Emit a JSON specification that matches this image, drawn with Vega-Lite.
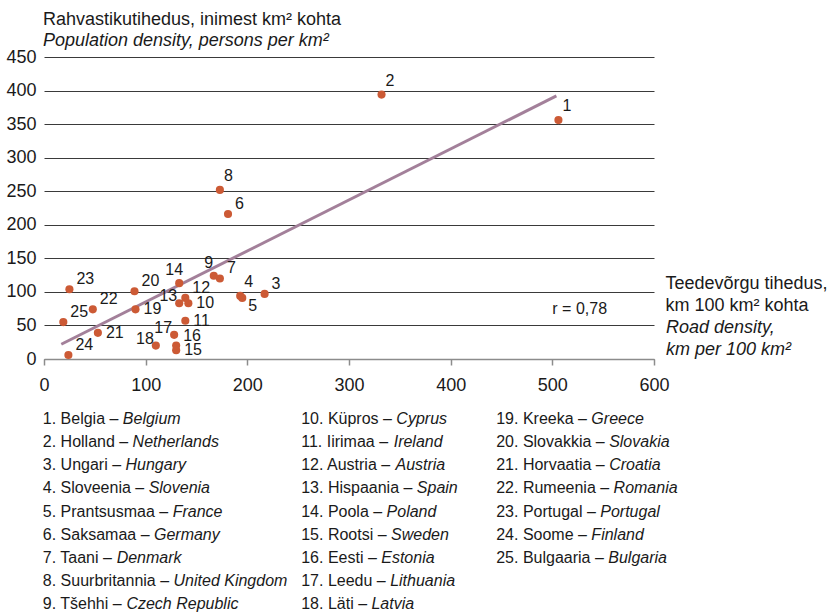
{
  "$schema": "https://vega.github.io/schema/vega-lite/v6.json",
  "background": "white",
  "padding": {"left": 5, "top": 11, "right": 5, "bottom": 0},
  "config": {"font": "Liberation Sans", "view": {"stroke": null}},
  "datasets": {
    "points": [
      {"n": 1, "x": 506, "y": 356},
      {"n": 2, "x": 332, "y": 394},
      {"n": 3, "x": 217, "y": 97},
      {"n": 4, "x": 193, "y": 94},
      {"n": 5, "x": 195, "y": 91},
      {"n": 6, "x": 181, "y": 216},
      {"n": 7, "x": 173, "y": 120},
      {"n": 8, "x": 173, "y": 252},
      {"n": 9, "x": 167, "y": 124},
      {"n": 10, "x": 142, "y": 83},
      {"n": 11, "x": 139, "y": 57},
      {"n": 12, "x": 139, "y": 91},
      {"n": 13, "x": 133, "y": 83},
      {"n": 14, "x": 133, "y": 113},
      {"n": 15, "x": 130, "y": 13},
      {"n": 16, "x": 130, "y": 20},
      {"n": 17, "x": 128, "y": 36},
      {"n": 18, "x": 110, "y": 20},
      {"n": 19, "x": 90, "y": 74},
      {"n": 20, "x": 89, "y": 101},
      {"n": 21, "x": 53, "y": 39},
      {"n": 22, "x": 48, "y": 74},
      {"n": 23, "x": 25, "y": 104},
      {"n": 24, "x": 24, "y": 6},
      {"n": 25, "x": 19, "y": 55}
    ],
    "trend": [
      {"x": 17, "y": 22},
      {"x": 504, "y": 392}
    ],
    "note": [
      {"label": "r = 0,78", "x": 500, "y": 74}
    ],
    "legend": [
      {"n": 1, "et": "Belgia", "en": "Belgium"},
      {"n": 2, "et": "Holland", "en": "Netherlands"},
      {"n": 3, "et": "Ungari", "en": "Hungary"},
      {"n": 4, "et": "Sloveenia", "en": "Slovenia"},
      {"n": 5, "et": "Prantsusmaa", "en": "France"},
      {"n": 6, "et": "Saksamaa", "en": "Germany"},
      {"n": 7, "et": "Taani", "en": "Denmark"},
      {"n": 8, "et": "Suurbritannia", "en": "United Kingdom"},
      {"n": 9, "et": "Tšehhi", "en": "Czech Republic"},
      {"n": 10, "et": "Küpros", "en": "Cyprus"},
      {"n": 11, "et": "Iirimaa", "en": "Ireland"},
      {"n": 12, "et": "Austria", "en": "Austria"},
      {"n": 13, "et": "Hispaania", "en": "Spain"},
      {"n": 14, "et": "Poola", "en": "Poland"},
      {"n": 15, "et": "Rootsi", "en": "Sweden"},
      {"n": 16, "et": "Eesti", "en": "Estonia"},
      {"n": 17, "et": "Leedu", "en": "Lithuania"},
      {"n": 18, "et": "Läti", "en": "Latvia"},
      {"n": 19, "et": "Kreeka", "en": "Greece"},
      {"n": 20, "et": "Slovakkia", "en": "Slovakia"},
      {"n": 21, "et": "Horvaatia", "en": "Croatia"},
      {"n": 22, "et": "Rumeenia", "en": "Romania"},
      {"n": 23, "et": "Portugal", "en": "Portugal"},
      {"n": 24, "et": "Soome", "en": "Finland"},
      {"n": 25, "et": "Bulgaaria", "en": "Bulgaria"}
    ]
  },
  "spacing": 10,
  "vconcat": [
    {
      "width": 610,
      "height": 302,
      "title": {
        "text": "Rahvastikutihedus, inimest km² kohta",
        "subtitle": "Population density, persons per km²",
        "anchor": "start",
        "frame": "group",
        "fontSize": 18,
        "fontWeight": "normal",
        "color": "#1a1a1a",
        "subtitleFontSize": 18,
        "subtitleFontStyle": "italic",
        "subtitleColor": "#1a1a1a",
        "subtitlePadding": 3,
        "offset": -2,
        "dx": -1
      },
      "layer": [
        {
          "data": {"name": "points"},
          "encoding": {
            "x": {
              "field": "x",
              "type": "quantitative",
              "scale": {"domain": [0, 600], "nice": false, "zero": false},
              "axis": {
                "values": [0, 100, 200, 300, 400, 500, 600],
                "grid": false,
                "labelFlush": false,
                "domainColor": "#8c8c8c",
                "domainWidth": 1.5,
                "tickColor": "#8c8c8c",
                "tickWidth": 1.5,
                "tickSize": 6,
                "labelFontSize": 18,
                "labelColor": "#1a1a1a",
                "labelPadding": 11,
                "title": ["Teedevõrgu tihedus,", "km 100 km² kohta"],
                "titleFontSize": 18,
                "titleFontWeight": "normal",
                "titleColor": "#1a1a1a",
                "titleAngle": 0,
                "titleAlign": "left",
                "titleBaseline": "top",
                "titleLineHeight": 22,
                "titleX": 621,
                "titleY": -85
              }
            },
            "y": {
              "field": "y",
              "type": "quantitative",
              "scale": {"domain": [0, 450], "nice": false},
              "axis": {
                "values": [0, 50, 100, 150, 200, 250, 300, 350, 400, 450],
                "grid": true,
                "gridColor": "#3a3a3a",
                "gridWidth": 1,
                "domain": false,
                "ticks": false,
                "labelFontSize": 18,
                "labelColor": "#1a1a1a",
                "labelPadding": 8,
                "title": null
              }
            }
          },
          "layer": [
            {
              "data": {"name": "trend"},
              "mark": {"type": "line", "color": "#a3809a", "strokeWidth": 3}
            },
            {
              "mark": {"type": "circle", "color": "#cc5a35", "opacity": 1, "size": 66}
            },
            {
              "transform": [{"filter": {"field": "n", "oneOf": [3, 6, 7, 12, 16, 20, 22, 23, 24, 25]}}],
              "mark": {"type": "text", "align": "left", "baseline": "middle", "dx": 7, "dy": -10, "fontSize": 16, "color": "#1a1a1a"},
              "encoding": {"text": {"field": "n"}}
            },
            {
              "transform": [{"filter": {"field": "n", "oneOf": [1, 2, 4, 8]}}],
              "mark": {"type": "text", "align": "left", "baseline": "middle", "dx": 4, "dy": -14, "fontSize": 16, "color": "#1a1a1a"},
              "encoding": {"text": {"field": "n"}}
            },
            {
              "transform": [{"filter": {"field": "n", "oneOf": [10, 11, 15, 19, 21]}}],
              "mark": {"type": "text", "align": "left", "baseline": "middle", "dx": 8, "dy": 0, "fontSize": 16, "color": "#1a1a1a"},
              "encoding": {"text": {"field": "n"}}
            },
            {
              "transform": [{"filter": {"field": "n", "oneOf": [9, 14]}}],
              "mark": {"type": "text", "align": "center", "baseline": "middle", "dx": -5, "dy": -13, "fontSize": 16, "color": "#1a1a1a"},
              "encoding": {"text": {"field": "n"}}
            },
            {
              "transform": [{"filter": {"field": "n", "oneOf": [13, 17, 18]}}],
              "mark": {"type": "text", "align": "right", "baseline": "middle", "dx": -2, "dy": -7, "fontSize": 16, "color": "#1a1a1a"},
              "encoding": {"text": {"field": "n"}}
            },
            {
              "transform": [{"filter": {"field": "n", "oneOf": [5]}}],
              "mark": {"type": "text", "align": "left", "baseline": "middle", "dx": 6, "dy": 8, "fontSize": 16, "color": "#1a1a1a"},
              "encoding": {"text": {"field": "n"}}
            },
            {
              "data": {"name": "note"},
              "mark": {"type": "text", "align": "left", "baseline": "middle", "fontSize": 16, "color": "#1a1a1a"},
              "encoding": {"text": {"field": "label", "type": "nominal"}}
            }
          ]
        },
        {
          "data": {"values": [{"label": ""}]},
          "mark": {"type": "text", "text": ""},
          "encoding": {
            "y": {
              "datum": 0,
              "type": "quantitative",
              "scale": {"domain": [0, 450], "nice": false},
              "axis": {
                "orient": "right",
                "labels": false,
                "ticks": false,
                "domain": false,
                "grid": false,
                "title": ["Road density,", "km per 100 km²"],
                "titleFontSize": 18,
                "titleFontWeight": "normal",
                "titleFontStyle": "italic",
                "titleColor": "#1a1a1a",
                "titleAngle": 0,
                "titleAlign": "left",
                "titleBaseline": "top",
                "titleLineHeight": 22,
                "titleX": 11.5,
                "titleY": 261
              }
            }
          }
        }
      ],
      "resolve": {"axis": {"y": "independent"}}
    },
    {
      "width": 620,
      "height": 210,
      "data": {"name": "legend"},
      "transform": [
        {"calculate": "datum.n <= 9 ? 0 : (datum.n <= 18 ? 1 : 2)", "as": "col"},
        {"calculate": "(datum.n - 1) % 9", "as": "row"},
        {"calculate": "datum.n + '. ' + datum.et + ' – '", "as": "prefix"},
        {"calculate": "0.016 * (556 * length(datum.prefix) - 334 * (length(datum.prefix) - length(replace(datum.prefix, regexp('[ilj]', 'g'), ''))) - 278 * (length(datum.prefix) - length(replace(datum.prefix, regexp('[tf .,I]', 'g'), ''))) - 223 * (length(datum.prefix) - length(replace(datum.prefix, regexp('[r]', 'g'), ''))) - 56 * (length(datum.prefix) - length(replace(datum.prefix, regexp('[ksvxyzcšJ]', 'g'), ''))) + 55 * (length(datum.prefix) - length(replace(datum.prefix, regexp('[FTZ]', 'g'), ''))) + 111 * (length(datum.prefix) - length(replace(datum.prefix, regexp('[BEKPSVXYA]', 'g'), ''))) + 166 * (length(datum.prefix) - length(replace(datum.prefix, regexp('[CDHNRUw]', 'g'), ''))) + 222 * (length(datum.prefix) - length(replace(datum.prefix, regexp('[GOQ]', 'g'), ''))) + 277 * (length(datum.prefix) - length(replace(datum.prefix, regexp('[mM]', 'g'), ''))) + 388 * (length(datum.prefix) - length(replace(datum.prefix, regexp('[W]', 'g'), ''))) - 55 * (length(datum.prefix) - length(replace(datum.prefix, regexp('Ta', 'g'), ''))))", "as": "w"}
      ],
      "encoding": {
        "x": {"field": "col", "type": "quantitative", "scale": {"domain": [0, 1, 2], "range": [-1.2, 257.2, 452.2]}, "axis": null},
        "y": {"field": "row", "type": "quantitative", "scale": {"domain": [0, 8], "range": [14.7, 200.3]}, "axis": null}
      },
      "layer": [
        {
          "mark": {"type": "text", "align": "left", "baseline": "middle", "fontSize": 16, "color": "#1a1a1a"},
          "encoding": {"text": {"field": "prefix"}}
        },
        {
          "mark": {"type": "text", "align": "left", "baseline": "middle", "fontSize": 16, "fontStyle": "italic", "color": "#1a1a1a", "dx": {"expr": "datum.w"}},
          "encoding": {"text": {"field": "en"}}
        }
      ]
    }
  ]
}
